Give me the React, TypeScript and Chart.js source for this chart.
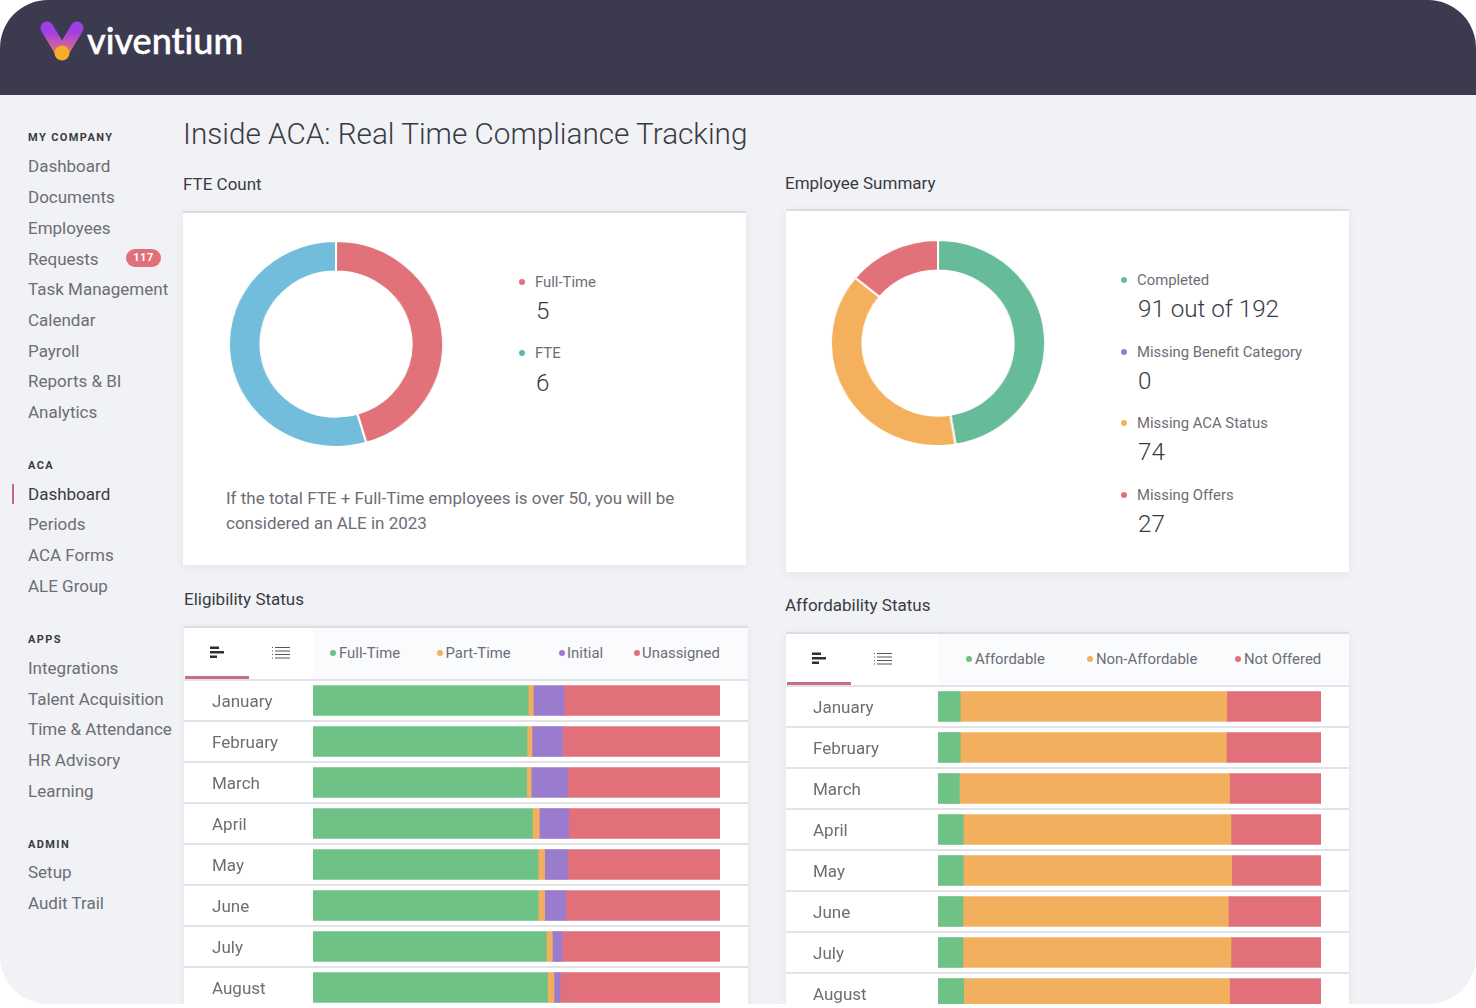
import { useEffect, useRef } from 'react';
import { Chart, registerables } from 'chart.js';

Chart.register(...registerables);

const FONT = 'Roboto, sans-serif';
const GREY = '#6d6d75';
const DARK = '#3a3a44';

const GREEN = '#6fc286';
const ORANGE = '#f2b05e';
const PURPLE = '#9a7ccf';
const RED = '#e1707a';

const months = ['January', 'February', 'March', 'April', 'May', 'June', 'July', 'August'];

// Eligibility Status, percent of the bar
const fullTime = [52.9, 52.6, 52.5, 53.9, 55.3, 55.3, 57.3, 57.6];
const partTime = [1.2, 1.2, 1.1, 1.7, 1.6, 1.6, 1.5, 1.6];
const initial = [7.6, 7.5, 8.9, 7.2, 5.6, 5.2, 2.4, 1.5];
const unassigned = [38.3, 38.7, 37.5, 37.2, 37.5, 37.9, 38.8, 39.3];

// Affordability Status, percent of the bar
const affordable = [5.8, 5.8, 5.6, 6.6, 6.6, 6.5, 6.5, 6.7];
const nonAffordable = [69.6, 69.5, 70.5, 69.9, 70.1, 69.3, 70.0, 69.4];
const notOffered = [24.6, 24.7, 23.9, 23.5, 23.3, 24.2, 23.5, 23.9];

const fteLabels = ['Full-Time', 'FTE'];
const fteValues = [5, 6];
const summaryLabels = ['Completed', 'Missing Benefit Category', 'Missing ACA Status', 'Missing Offers'];
const summaryValues = [91, 0, 74, 27];

const companyMenu = [
  ['Dashboard', 166], ['Documents', 197], ['Employees', 228], ['Requests', 258.5], ['Task Management', 289],
  ['Calendar', 320], ['Payroll', 351], ['Reports & BI', 381], ['Analytics', 412],
] as const;
const acaMenu = [['Periods', 524], ['ACA Forms', 555], ['ALE Group', 586]] as const;
const appsMenu = [
  ['Integrations', 668], ['Talent Acquisition', 699], ['Time & Attendance', 729], ['HR Advisory', 760], ['Learning', 791],
] as const;
const adminMenu = [['Setup', 872], ['Audit Trail', 903]] as const;
const menuHeads = [['MY COMPANY', 138], ['ACA', 466], ['APPS', 640], ['ADMIN', 845]] as const;

// horizontal separators between the table rows, full canvas width
const rowLines = {
  id: 'rowLines',
  beforeDraw(chart: any) {
    const { ctx, scales } = chart;
    const y = scales.y;
    const step = y.getPixelForTick(1) - y.getPixelForTick(0);
    ctx.save();
    ctx.strokeStyle = '#e2e3e8';
    ctx.lineWidth = 2;
    for (let i = 0; i < months.length - 1; i++) {
      const py = y.getPixelForTick(i) + step / 2;
      ctx.beginPath();
      ctx.moveTo(0, py);
      ctx.lineTo(chart.width, py);
      ctx.stroke();
    }
    ctx.restore();
  },
};

type BarSet = { label: string; data: number[]; color: string };

const BarTable = ({ sets, left, top, width, height, labelGap, axisWidth, rightGap }: {
  sets: BarSet[]; left: number; top: number; width: number; height: number;
  labelGap: number; axisWidth: number; rightGap: number;
}) => {
  const ref = useRef<HTMLCanvasElement>(null);

  useEffect(() => {
    if (!ref.current) return;
    const chart = new Chart(ref.current, {
      type: 'bar',
      data: {
        labels: months,
        datasets: sets.map((s) => ({
          label: s.label,
          data: s.data,
          backgroundColor: s.color,
          barThickness: 30,
        })),
      },
      options: {
        indexAxis: 'y',
        responsive: false,
        animation: false,
        layout: { padding: { left: labelGap, right: rightGap, top: 0, bottom: 0 } },
        plugins: { legend: { display: false }, tooltip: { enabled: false } },
        scales: {
          x: { stacked: true, min: 0, max: 100, display: false },
          y: {
            stacked: true,
            grid: { display: false, drawTicks: false },
            border: { display: false },
            // fixed label column, and no extra room above and below the rows
            afterFit: (scale: any) => {
              scale.width = axisWidth;
              scale.paddingTop = 0;
              scale.paddingBottom = 0;
            },
            ticks: {
              crossAlign: 'far',
              autoSkip: false,
              labelOffset: 2,
              color: GREY,
              font: { family: FONT, size: 17 },
            },
          },
        },
      },
      plugins: [rowLines],
    } as any);
    return () => chart.destroy();
  }, []);

  return (
    <canvas ref={ref} width={width} height={height}
      style={{ position: 'absolute', left, top, display: 'block' }} />
  );
};

const Donut = ({ labels, values, colors, cx, cy }: {
  labels: string[]; values: number[]; colors: string[]; cx: number; cy: number;
}) => {
  const ref = useRef<HTMLCanvasElement>(null);

  useEffect(() => {
    if (!ref.current) return;
    const chart = new Chart(ref.current, {
      type: 'doughnut',
      data: {
        labels,
        datasets: [{ data: values, backgroundColor: colors, borderColor: '#ffffff', borderWidth: 2 }],
      },
      options: {
        responsive: false,
        animation: false,
        cutout: '70.5%',
        plugins: { legend: { display: false }, tooltip: { enabled: false } },
      },
    });
    return () => chart.destroy();
  }, []);

  // the reference picture is a little wider than tall
  return (
    <canvas ref={ref} width={208} height={208}
      style={{ position: 'absolute', left: cx - 104, top: cy - 104, display: 'block', transform: 'scaleX(1.04)' }} />
  );
};

const Txt = ({ x, y, size = 17, color = GREY, weight = 400, spacing = 0, children }: {
  x: number; y: number; size?: number; color?: string; weight?: number; spacing?: number; children: React.ReactNode;
}) => (
  <div style={{
    position: 'absolute', left: x, top: y, transform: 'translateY(-50%)', whiteSpace: 'nowrap',
    fontFamily: FONT, fontSize: size, color, fontWeight: weight, letterSpacing: spacing, lineHeight: 1.2,
  }}>{children}</div>
);

const Dot = ({ x, y, color, r = 3 }: { x: number; y: number; color: string; r?: number }) => (
  <div style={{ position: 'absolute', left: x - r, top: y - r, width: r * 2, height: r * 2, borderRadius: '50%', background: color }} />
);

const Card = ({ x, y, w, h }: { x: number; y: number; w: number; h: number }) => (
  <div style={{
    position: 'absolute', left: x, top: y, width: w, height: h, background: '#fff',
    borderTop: '2px solid #dcdde1', boxSizing: 'border-box', boxShadow: '0 2px 8px rgba(60,60,80,0.07)',
  }} />
);

const TableHead = ({ x, y, w, bandFrom }: { x: number; y: number; w: number; bandFrom: number }) => (
  <>
    <div style={{ position: 'absolute', left: bandFrom, top: y + 2, width: x + w - bandFrom, height: 51, background: '#fafbfd' }} />
    <div style={{ position: 'absolute', left: x, top: y + 53, width: w, height: 1.5, background: '#e2e3e8' }} />
    <div style={{ position: 'absolute', left: x + 1, top: y + 50, width: 64, height: 3, background: '#c56f85' }} />
    <svg width="110" height="16" style={{ position: 'absolute', left: x + 25, top: y + 19 }}>
      <rect x="1" y="1.5" width="9" height="2.5" fill="#2f2f38" />
      <rect x="1" y="6" width="14" height="2.5" fill="#2f2f38" />
      <rect x="1" y="10.5" width="7" height="2.5" fill="#2f2f38" />
      <g stroke="#55555e" strokeWidth="1">
        <path d="M66 2.5h15M66 6h15M66 9.5h15M66 13h15" />
        <path d="M63 2.5h2M63 6h2M63 9.5h2M63 13h2" strokeDasharray="1 1" />
      </g>
    </svg>
  </>
);

const MenuList = ({ items }: { items: readonly (readonly [string, number])[] }) => (
  <>
    {items.map(([t, y]) => <Txt key={t} x={28} y={y}>{t}</Txt>)}
  </>
);

export default function App() {
  useEffect(() => {
    document.body.style.margin = '0';
    document.body.style.background = '#fff';
  }, []);

  const eligibility: BarSet[] = [
    { label: 'Full-Time', data: fullTime, color: GREEN },
    { label: 'Part-Time', data: partTime, color: ORANGE },
    { label: 'Initial', data: initial, color: PURPLE },
    { label: 'Unassigned', data: unassigned, color: RED },
  ];
  const affordability: BarSet[] = [
    { label: 'Affordable', data: affordable, color: GREEN },
    { label: 'Non-Affordable', data: nonAffordable, color: ORANGE },
    { label: 'Not Offered', data: notOffered, color: RED },
  ];

  return (
    <div style={{ position: 'relative', width: 1476, height: 1008, overflow: 'hidden', background: '#fff' }}>
      <div style={{
        position: 'absolute', left: 0, top: 0, width: 1476, height: 1004, overflow: 'hidden',
        borderRadius: 48, background: '#f1f2f5',
      }}>
        {/* top band */}
        <div style={{ position: 'absolute', left: 0, top: 0, width: 1476, height: 95, background: '#3c3a4f' }} />
        <svg width="60" height="60" viewBox="0 0 60 60" style={{ position: 'absolute', left: 33, top: 14 }}>
          <defs>
            <linearGradient id="vg" gradientUnits="userSpaceOnUse" x1="0" y1="18" x2="0" y2="42">
              <stop offset="0" stopColor="#a13fe6" />
              <stop offset="1" stopColor="#ef7a6a" />
            </linearGradient>
          </defs>
          <path d="M14 14 L29 39 L44 14" fill="none" stroke="url(#vg)" strokeWidth="13" strokeLinecap="round" strokeLinejoin="round" />
          <circle cx="29" cy="39" r="7.5" fill="#f5ae2c" />
        </svg>
        <div style={{
          position: 'absolute', left: 87, top: 41, transform: 'translateY(-50%)', fontFamily: 'Lato, sans-serif',
          fontSize: 36, fontWeight: 500, color: '#fff', whiteSpace: 'nowrap', lineHeight: 1.1, WebkitTextStroke: '0.5px #fff',
          fontVariantLigatures: 'none',
        }}>viventium</div>

        {/* side menu */}
        {menuHeads.map(([t, y]) => <Txt key={t} x={28} y={y} size={11} weight={700} color={DARK} spacing={1.4}>{t}</Txt>)}
        <MenuList items={companyMenu} />
        <div style={{
          position: 'absolute', left: 126, top: 249, width: 35, height: 18, borderRadius: 9, background: RED, color: '#fff',
          fontFamily: FONT, fontSize: 11, fontWeight: 700, textAlign: 'center', lineHeight: '17px', letterSpacing: 0.6,
        }}>117</div>
        <div style={{ position: 'absolute', left: 12, top: 484, width: 2, height: 20, background: '#c9648a' }} />
        <Txt x={28} y={494} color={DARK}>Dashboard</Txt>
        <MenuList items={acaMenu} />
        <MenuList items={appsMenu} />
        <MenuList items={adminMenu} />

        {/* headings */}
        <Txt x={183} y={134} size={29.7} weight={300} color={DARK}>Inside ACA: Real Time Compliance Tracking</Txt>
        <Txt x={183} y={184} color={DARK}>FTE Count</Txt>
        <Txt x={785} y={183} color={DARK}>Employee Summary</Txt>
        <Txt x={184} y={599} color={DARK}>Eligibility Status</Txt>
        <Txt x={785} y={605} color={DARK}>Affordability Status</Txt>

        {/* FTE card */}
        <Card x={183} y={211} w={563} h={354} />
        <Donut labels={fteLabels} values={fteValues} colors={['#e2727a', '#72bcdc']} cx={335.5} cy={344} />
        <Dot x={522} y={282} color="#e2727a" />
        <Txt x={535} y={283} size={14.85}>Full-Time</Txt>
        <Txt x={536} y={312} size={24.2} weight={300} color={DARK}>5</Txt>
        <Dot x={522} y={353} color="#5bb7b0" />
        <Txt x={535} y={354} size={14.85}>FTE</Txt>
        <Txt x={536} y={384} size={24.2} weight={300} color={DARK}>6</Txt>
        <Txt x={226} y={498}>If the total FTE + Full-Time employees is over 50, you will be</Txt>
        <Txt x={226} y={523}>considered an ALE in 2023</Txt>

        {/* employee summary card */}
        <Card x={786} y={209} w={563} h={363} />
        <Donut labels={summaryLabels} values={summaryValues} colors={['#66bb98', PURPLE, '#f4b05c', '#e2727a']} cx={937.5} cy={342.5} />
        <Dot x={1124} y={280} color="#66bb98" />
        <Txt x={1137} y={281} size={14.85}>Completed</Txt>
        <Txt x={1138} y={310} size={24.2} weight={300} color={DARK}>91 out of 192</Txt>
        <Dot x={1124} y={351.5} color={PURPLE} />
        <Txt x={1137} y={352.5} size={14.85}>Missing Benefit Category</Txt>
        <Txt x={1138} y={382} size={24.2} weight={300} color={DARK}>0</Txt>
        <Dot x={1124} y={423} color="#f4b05c" />
        <Txt x={1137} y={424} size={14.85}>Missing ACA Status</Txt>
        <Txt x={1138} y={453} size={24.2} weight={300} color={DARK}>74</Txt>
        <Dot x={1124} y={494.5} color="#e2727a" />
        <Txt x={1137} y={495.5} size={14.85}>Missing Offers</Txt>
        <Txt x={1138} y={525} size={24.2} weight={300} color={DARK}>27</Txt>

        {/* eligibility table */}
        <Card x={184} y={626} w={564} h={382} />
        <TableHead x={184} y={626} w={564} bandFrom={313} />
        <Dot x={333} y={653} color={GREEN} />
        <Txt x={339} y={654} size={14.9}>Full-Time</Txt>
        <Dot x={440} y={653} color={ORANGE} />
        <Txt x={445.5} y={654} size={14.9}>Part-Time</Txt>
        <Dot x={561.5} y={653} color={PURPLE} />
        <Txt x={567} y={654} size={14.9}>Initial</Txt>
        <Dot x={636.5} y={653} color={RED} />
        <Txt x={642} y={654} size={14.9}>Unassigned</Txt>
        <BarTable sets={eligibility} left={184} top={680} width={564} height={328} labelGap={28} axisWidth={101} rightGap={28} />

        {/* affordability table */}
        <Card x={786} y={632} w={563} h={376} />
        <TableHead x={786} y={632} w={563} bandFrom={938} />
        <Dot x={969} y={659} color={GREEN} />
        <Txt x={975} y={660} size={14.9}>Affordable</Txt>
        <Dot x={1090} y={659} color={ORANGE} />
        <Txt x={1096} y={660} size={14.9}>Non-Affordable</Txt>
        <Dot x={1238} y={659} color={RED} />
        <Txt x={1244} y={660} size={14.9}>Not Offered</Txt>
        <BarTable sets={affordability} left={786} top={686} width={563} height={328} labelGap={27} axisWidth={125} rightGap={28} />
      </div>
    </div>
  );
}
